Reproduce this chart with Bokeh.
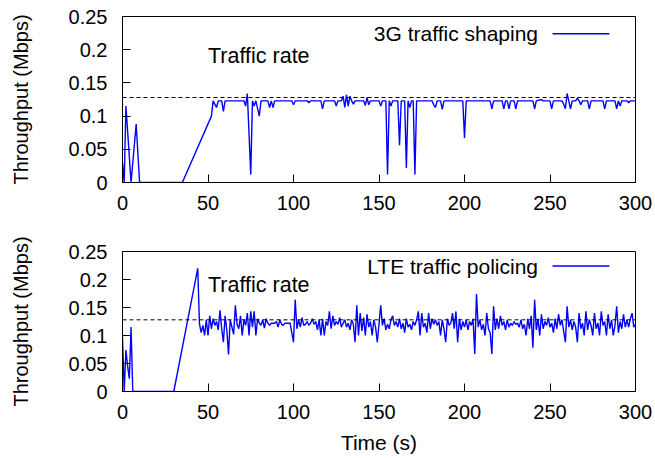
from bokeh.plotting import figure
from bokeh.layouts import column
from bokeh.models import FixedTicker, CustomJSTickFormatter, Span, Label, Arrow
from bokeh.embed import file_html
from bokeh.resources import INLINE

# ---------------- data ----------------
traffic_rate = 0.128
x_ticks = [0, 50, 100, 150, 200, 250, 300]
y_ticks = [0, 0.05, 0.1, 0.15, 0.2, 0.25]

# 3G traffic shaping (vertices of the trace)
t_3g = [0, 1, 2, 5, 8, 10, 35, 52, 53, 55, 56, 58, 59, 60,
        71, 72, 73, 75, 76, 77, 78, 80, 81, 85, 86, 87, 88, 89,
        99, 100, 101, 108, 109, 110, 116, 117, 118, 124, 125, 126,
        128, 129, 130, 131, 132, 133, 134, 135, 136, 141, 142, 143, 144, 145,
        150, 151, 152, 154, 155, 156, 157, 158, 161, 162, 163, 165, 166, 167, 168, 169, 170, 171, 172,
        181, 182, 183, 184, 186, 187, 188, 199, 200, 201,
        215, 216, 217, 222, 223, 224, 225, 226, 227, 229, 230, 231,
        240, 241, 242, 245, 246, 250, 251, 252, 257, 258, 259, 260, 261, 262, 263, 265, 266, 267, 268, 269,
        272, 273, 274, 281, 282, 283, 288, 289, 290, 291, 292, 295, 296, 297, 300]
v_3g = [0.03, 0.0, 0.115, 0.0, 0.088, 0.0, 0.0, 0.10, 0.123, 0.113, 0.123, 0.123, 0.107, 0.123,
        0.123, 0.115, 0.134, 0.012, 0.123, 0.115, 0.123, 0.100, 0.123, 0.123, 0.113, 0.123, 0.113, 0.123,
        0.123, 0.117, 0.123, 0.123, 0.120, 0.123, 0.123, 0.111, 0.123, 0.123, 0.115, 0.123,
        0.123, 0.130, 0.113, 0.132, 0.115, 0.130, 0.123, 0.118, 0.123, 0.123, 0.116, 0.128, 0.117, 0.123,
        0.123, 0.115, 0.123, 0.123, 0.012, 0.123, 0.115, 0.123, 0.123, 0.056, 0.123, 0.123, 0.022, 0.123, 0.113, 0.123, 0.123, 0.012, 0.123,
        0.123, 0.117, 0.113, 0.123, 0.123, 0.110, 0.123, 0.123, 0.067, 0.123,
        0.123, 0.111, 0.123, 0.123, 0.111, 0.123, 0.123, 0.111, 0.123, 0.123, 0.111, 0.123,
        0.123, 0.111, 0.123, 0.125, 0.123, 0.123, 0.111, 0.123, 0.123, 0.118, 0.111, 0.134, 0.123, 0.111, 0.123, 0.123, 0.127, 0.123, 0.117, 0.123,
        0.123, 0.111, 0.123, 0.123, 0.111, 0.123, 0.123, 0.111, 0.123, 0.115, 0.123, 0.123, 0.120, 0.123, 0.123]

# LTE traffic policing
t_lte = [0, 1, 2, 3, 4, 5, 6, 30] + list(range(44, 301))
v_lte = [0.097, 0.0, 0.074, 0.045, 0.023, 0.115, 0.0, 0.0,
         0.220, 0.121, 0.105, 0.118, 0.100, 0.128,
         0.100, 0.135, 0.112, 0.130, 0.118, 0.125, 0.110, 0.145, 0.112, 0.088,
         0.135, 0.110, 0.066, 0.128, 0.115, 0.102, 0.154, 0.120, 0.112, 0.135,
         0.100, 0.128, 0.118, 0.140, 0.100, 0.143, 0.115, 0.143, 0.100, 0.130,
         0.122, 0.118, 0.128, 0.113, 0.130, 0.122, 0.118, 0.122, 0.122, 0.122,
         0.125, 0.115, 0.128, 0.120, 0.118, 0.122, 0.122, 0.122, 0.122, 0.105,
         0.088, 0.164, 0.112, 0.128, 0.115, 0.132, 0.118, 0.120, 0.125, 0.118,
         0.122, 0.130, 0.120, 0.125, 0.110, 0.128, 0.100, 0.130, 0.100, 0.125,
         0.118, 0.143, 0.112, 0.135, 0.118, 0.125, 0.120, 0.132, 0.115, 0.122,
         0.128, 0.115, 0.122, 0.110, 0.128, 0.120, 0.088, 0.154, 0.100, 0.140,
         0.108, 0.132, 0.100, 0.138, 0.115, 0.125, 0.100, 0.128, 0.115, 0.088,
         0.120, 0.154, 0.118, 0.130, 0.110, 0.120, 0.112, 0.128, 0.135, 0.118,
         0.125, 0.115, 0.130, 0.112, 0.122, 0.105, 0.130, 0.115, 0.120, 0.110,
         0.125, 0.118, 0.128, 0.143, 0.100, 0.140, 0.115, 0.122, 0.105, 0.140,
         0.112, 0.130, 0.120, 0.128, 0.118, 0.125, 0.100, 0.128, 0.112, 0.088,
         0.130, 0.118, 0.122, 0.140, 0.112, 0.143, 0.088, 0.130, 0.110, 0.125,
         0.115, 0.128, 0.110, 0.125, 0.118, 0.130, 0.067, 0.174, 0.115, 0.128,
         0.110, 0.120, 0.100, 0.140, 0.112, 0.105, 0.067, 0.152, 0.110, 0.130,
         0.112, 0.135, 0.118, 0.125, 0.110, 0.128, 0.115, 0.122, 0.118, 0.125,
         0.120, 0.122, 0.115, 0.128, 0.112, 0.120, 0.100, 0.130, 0.112, 0.135,
         0.078, 0.164, 0.110, 0.130, 0.100, 0.138, 0.112, 0.125, 0.118, 0.132,
         0.115, 0.122, 0.105, 0.130, 0.112, 0.138, 0.118, 0.128, 0.108, 0.088,
         0.152, 0.115, 0.128, 0.110, 0.125, 0.115, 0.088, 0.140, 0.112, 0.122,
         0.100, 0.143, 0.110, 0.128, 0.118, 0.100, 0.140, 0.112, 0.122, 0.100,
         0.143, 0.118, 0.125, 0.100, 0.138, 0.112, 0.128, 0.100, 0.118, 0.152,
         0.105, 0.125, 0.112, 0.138, 0.115, 0.128, 0.115, 0.130, 0.140, 0.115,
         0.120]

series = [
    ("3G traffic shaping", t_3g, v_3g),
    ("LTE traffic policing", t_lte, v_lte),
]

FONT = "Liberation Sans"
BLUE = "#0000ff"


def make_panel(name, t, v, height, top, bottom, show_xlabel):
    p = figure(width=652, height=height, x_range=(0, 300), y_range=(0, 0.25),
               output_backend="svg", toolbar_location=None,
               min_border_left=122, min_border_right=17,
               min_border_top=top, min_border_bottom=bottom)
    p.grid.visible = False
    p.outline_line_color = "black"
    p.outline_line_width = 1
    p.background_fill_color = "white"
    p.border_fill_color = "white"

    p.line(t, v, line_color=BLUE, line_width=1.4)
    p.add_layout(Span(location=traffic_rate, dimension="width", line_color="black",
                      line_width=1, line_dash="4 3"))

    for ax in (p.xaxis[0], p.yaxis[0]):
        ax.major_tick_in = 8
        ax.major_tick_out = 0
        ax.minor_tick_line_color = None
        ax.axis_line_color = "black"
        ax.major_tick_line_color = "black"
        ax.major_label_text_font = FONT
        ax.major_label_text_font_size = "20px"
        ax.major_label_text_color = "black"
        ax.axis_label_text_font = FONT
        ax.axis_label_text_font_style = "normal"
        ax.axis_label_text_color = "black"
    p.xaxis[0].axis_label_text_font_size = "21px"
    p.yaxis[0].axis_label_text_font_size = "20px"
    p.xaxis[0].ticker = FixedTicker(ticks=x_ticks)
    p.yaxis[0].ticker = FixedTicker(ticks=y_ticks)
    p.xaxis[0].formatter = CustomJSTickFormatter(code="return tick.toString();")
    p.yaxis[0].formatter = CustomJSTickFormatter(code="return (Math.round(tick*100)/100).toString();")
    p.xaxis[0].major_label_standoff = 13
    p.yaxis[0].major_label_standoff = 15
    p.yaxis[0].axis_label = "Throughput (Mbps)"
    p.yaxis[0].axis_label_standoff = 34
    if show_xlabel:
        p.xaxis[0].axis_label = "Time (s)"
        p.xaxis[0].axis_label_standoff = 9

    # "Traffic rate" annotation
    p.add_layout(Label(x=50, y=0.19, text="Traffic rate", text_align="left",
                       text_baseline="middle", text_font=FONT,
                       text_font_size="21.5px", text_color="black"))
    # gnuplot-style key: label on the left, sample line on the right
    p.add_layout(Label(x=243, y=0.224, text=name, text_align="right",
                       text_baseline="middle", text_font=FONT,
                       text_font_size="21px", text_color="black"))
    p.add_layout(Arrow(end=None, x_start=251.5, y_start=0.224, x_end=284.8, y_end=0.224,
                       line_color=BLUE, line_width=1.4))
    return p


p1 = make_panel(series[0][0], series[0][1], series[0][2], 225, 16, 43, False)
p2 = make_panel(series[1][0], series[1][1], series[1][2], 231, 26, 65, True)

layout = column(p1, p2, spacing=0)
open("out.html", "w").write(file_html(layout, INLINE))
